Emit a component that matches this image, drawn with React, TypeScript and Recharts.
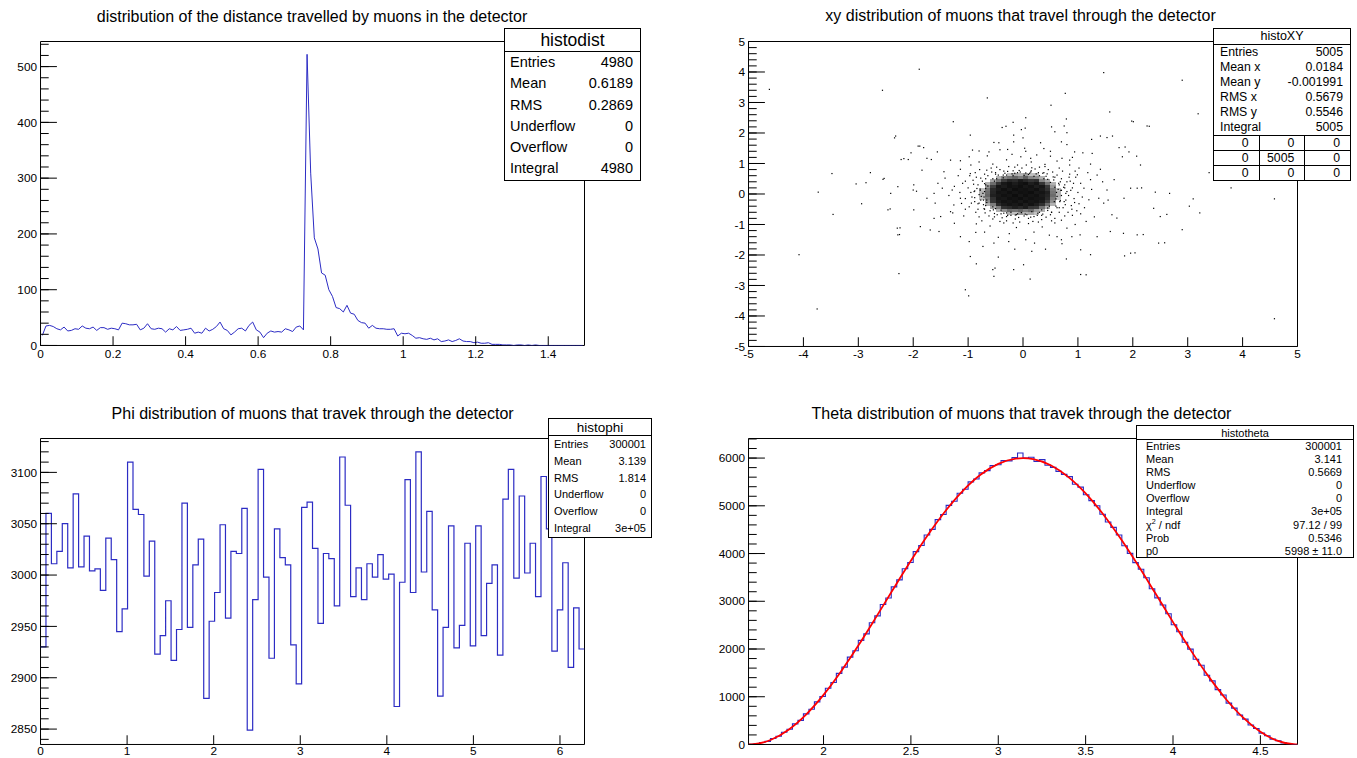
import React from "react";
import { ComposedChart, Line, Scatter, XAxis, YAxis, ReferenceArea } from "recharts";

const FONT = '"Liberation Sans", Arial, Helvetica, sans-serif';
const HIST_BLUE = "#2c2cc4";
const FIT_RED = "#ff0000";
const LABEL_SIZE = 11.8;

// ---------- histodist : 150 bins on [0, 1.5] ----------
const distCounts = [
  18, 35, 36, 34, 30, 28, 33, 26, 27, 30, 29, 35, 31, 30, 33, 27, 32, 32, 29, 31,
  30, 28, 40, 39, 37, 37, 38, 28, 31, 39, 30, 29, 31, 30, 24, 30, 28, 34, 27, 28,
  29, 31, 22, 24, 22, 31, 26, 29, 34, 42, 30, 27, 19, 24, 30, 31, 26, 36, 42, 28,
  24, 14, 22, 26, 24, 25, 24, 30, 28, 25, 33, 35, 28, 522, 309, 193, 173, 130, 126, 100,
  88, 68, 66, 60, 72, 58, 56, 45, 41, 40, 31, 36, 31, 30, 30, 29, 29, 30, 17, 22,
  21, 22, 18, 13, 14, 12, 11, 13, 10, 12, 7, 8, 10, 7, 9, 12, 8, 7, 7, 5,
  6, 4, 4, 5, 2, 2, 2, 1, 1, 1, 0, 1, 1, 0, 1, 0, 1, 0, 0, 0,
  0, 0, 0, 0, 0, 0, 0, 0, 0, 0,
];
const distXTicks = [0, 0.2, 0.4, 0.6, 0.8, 1, 1.2, 1.4];
const distYTicks = [0, 100, 200, 300, 400, 500];
const distStats = [
  ["Entries", "4980"],
  ["Mean", "0.6189"],
  ["RMS", "0.2869"],
  ["Underflow", "0"],
  ["Overflow", "0"],
  ["Integral", "4980"],
];

// ---------- histoXY ----------
// dense core, 0.1 x 0.1 cells, x from -1.0 (20 columns), rows from y = 0.9 downwards (18 rows)
const xyCoreRows = [
  [0, 0, 0, 0, 0, 0, 0, 0, 0, 0, 0, 0, 0, 0, 0, 0, 0, 0, 0, 0],
  [0, 0, 0, 0, 0, 0, 0, 0, 0, 0, 0, 0, 0, 0, 0, 0, 0, 0, 0, 0],
  [0, 0, 0, 0, 0, 0, 0, 4, 6, 5, 7, 4, 4, 0, 0, 0, 0, 0, 0, 0],
  [0, 0, 0, 0, 0, 5, 9, 11, 13, 10, 14, 9, 8, 5, 0, 0, 0, 0, 0, 0],
  [0, 0, 0, 0, 6, 11, 20, 27, 25, 32, 26, 22, 24, 9, 6, 0, 0, 0, 0, 0],
  [0, 0, 0, 5, 12, 22, 33, 38, 31, 36, 40, 30, 35, 22, 11, 5, 0, 0, 0, 0],
  [0, 0, 0, 8, 20, 35, 31, 38, 35, 40, 33, 37, 30, 34, 21, 7, 0, 0, 0, 0],
  [0, 0, 4, 11, 26, 32, 39, 33, 41, 36, 38, 34, 39, 31, 23, 10, 4, 0, 0, 0],
  [0, 0, 5, 12, 27, 36, 34, 40, 35, 39, 37, 41, 33, 35, 29, 11, 5, 0, 0, 0],
  [0, 0, 5, 13, 29, 33, 38, 35, 42, 34, 40, 35, 38, 32, 27, 12, 5, 0, 0, 0],
  [0, 0, 4, 10, 23, 35, 33, 39, 36, 41, 34, 38, 35, 34, 25, 10, 4, 0, 0, 0],
  [0, 0, 0, 8, 22, 31, 37, 34, 38, 33, 39, 34, 36, 31, 20, 8, 0, 0, 0, 0],
  [0, 0, 0, 5, 10, 25, 32, 36, 33, 38, 31, 36, 30, 23, 12, 5, 0, 0, 0, 0],
  [0, 0, 0, 0, 6, 10, 23, 25, 30, 26, 31, 22, 21, 11, 5, 0, 0, 0, 0, 0],
  [0, 0, 0, 0, 0, 5, 8, 12, 11, 13, 10, 12, 7, 5, 0, 0, 0, 0, 0, 0],
  [0, 0, 0, 0, 0, 0, 0, 5, 4, 7, 5, 6, 4, 0, 0, 0, 0, 0, 0, 0],
  [0, 0, 0, 0, 0, 0, 0, 0, 0, 0, 0, 0, 0, 0, 0, 0, 0, 0, 0, 0],
  [0, 0, 0, 0, 0, 0, 0, 0, 0, 0, 0, 0, 0, 0, 0, 0, 0, 0, 0, 0],
];
// speckled fringe just outside the core
const xyRing = [
  [-0.95, 0.05], [-0.9, 0.32], [-0.88, -0.25], [-0.85, 0.55], [-0.82, -0.5], [-0.78, 0.12], [-0.76, -0.08], [-0.74, 0.42],
  [-0.72, -0.35], [-0.7, 0.65], [-0.69, -0.62], [-0.98, -0.42], [-1.0, 0.2], [-0.93, -0.1], [-0.87, 0.7], [-0.8, -0.75],
  [-0.66, 0.78], [-0.62, -0.72], [-0.58, 0.85], [-0.55, -0.82], [-0.5, 0.7], [-0.47, -0.68], [-0.42, 0.8], [-0.38, -0.78],
  [-0.33, 0.68], [-0.3, -0.88], [-0.26, 0.9], [-0.22, -0.7], [-0.18, 0.76], [-0.14, -0.82], [-0.1, 0.7], [-0.06, -0.92],
  [-0.02, 0.85], [0.02, -0.72], [0.06, 0.95], [0.1, -0.8], [0.14, 0.72], [0.18, -0.9], [0.22, 0.82], [0.26, -0.7],
  [0.3, 0.88], [0.34, -0.84], [0.38, 0.7], [0.42, -0.76], [0.46, 0.8], [0.5, -0.68], [0.54, 0.72], [0.58, -0.8],
  [0.62, 0.62], [0.66, -0.6], [0.7, 0.5], [0.73, -0.45], [0.76, 0.3], [0.78, -0.2], [0.8, 0.08], [0.83, -0.05],
  [0.86, 0.42], [0.88, -0.38], [0.9, 0.2], [0.93, -0.15], [0.96, 0.55], [0.98, -0.55], [0.72, 0.75], [0.76, -0.72],
  [0.85, 0.65], [0.9, -0.7], [-1.05, -0.15], [-1.1, 0.35], [-0.97, 0.6], [1.0, 0.05], [1.02, -0.32], [0.95, 0.75],
  [-0.84, 0.18], [-0.8, -0.3], [-0.77, 0.52], [-0.73, 0.02], [-0.71, -0.48], [-0.68, 0.3], [-0.66, -0.2], [-0.64, 0.6],
  [-0.6, -0.55], [-0.57, 0.72], [-0.52, -0.75], [-0.45, 0.62], [-0.4, -0.65], [-0.35, 0.75], [-0.28, -0.7], [-0.2, 0.66],
  [-0.12, -0.68], [-0.05, 0.72], [0.04, -0.66], [0.12, 0.68], [0.2, -0.74], [0.28, 0.7], [0.36, -0.66], [0.44, 0.66],
  [0.52, -0.6], [0.58, 0.55], [0.62, -0.45], [0.65, 0.35], [0.67, -0.25], [0.69, 0.12], [0.7, -0.05], [0.74, 0.22],
  [0.77, -0.35], [0.8, 0.4], [0.82, -0.6], [0.84, 0.55], [-0.91, 0.45], [-0.86, -0.6], [-0.94, -0.3], [-0.89, 0.08],
  [0.87, 0.12], [0.92, 0.35], [0.89, -0.5], [0.94, -0.28], [-0.48, 0.88], [-0.15, 0.88], [0.16, 0.86], [0.4, 0.9],
  [-0.42, -0.9], [-0.18, -0.95], [0.28, -0.92], [0.52, -0.88], [-0.75, -0.88], [0.66, 0.85], [-0.79, 0.8], [0.7, -0.86],
  [0.61, 0.05], [0.58, 0.22], [0.5, 0.38], [0.38, 0.5], [0.2, 0.58], [0.02, 0.61], [-0.18, 0.6], [-0.36, 0.53],
  [-0.52, 0.42], [-0.64, 0.26], [-0.7, 0.08], [-0.71, -0.1], [-0.66, -0.28], [-0.55, -0.42], [-0.4, -0.53], [-0.22, -0.6],
  [-0.03, -0.61], [0.16, -0.58], [0.34, -0.52], [0.48, -0.4], [0.57, -0.25], [0.62, -0.08], [0.7, 0.12], [0.66, 0.3],
  [0.56, 0.46], [0.42, 0.58], [0.24, 0.66], [0.05, 0.69], [-0.15, 0.68], [-0.36, 0.62], [-0.55, 0.5], [-0.7, 0.34],
  [-0.78, 0.16], [-0.8, -0.02], [-0.77, -0.2], [-0.68, -0.38], [-0.54, -0.52], [-0.35, -0.63], [-0.14, -0.69], [0.07, -0.68],
  [0.27, -0.63], [0.45, -0.54], [0.6, -0.4], [0.68, -0.22], [0.78, 0.02], [0.76, 0.2], [0.68, 0.4], [0.55, 0.56],
  [0.36, 0.68], [0.15, 0.76], [-0.07, 0.77], [-0.28, 0.74], [-0.5, 0.65], [-0.68, 0.5], [-0.82, 0.3], [-0.88, 0.1],
  [-0.88, -0.12], [-0.82, -0.32], [-0.7, -0.5], [-0.52, -0.64], [-0.3, -0.74], [-0.08, -0.77], [0.14, -0.76], [0.34, -0.7],
  [0.52, -0.6], [0.66, -0.45], [0.75, -0.25], [0.64, 0.15], [0.6, -0.16], [-0.68, 0.18], [-0.72, -0.2], [0.3, 0.6],
  [-0.3, 0.62], [0.3, -0.6], [-0.3, -0.62], [0.1, 0.64], [-0.1, -0.65], [0.45, 0.48], [-0.48, 0.5], [0.45, -0.46],
  [-0.5, -0.48],
];
const xyHalo = [
  [1.58, 2.69], [0.05, 2.5], [-0.18, 2.35], [-0.38, 2.18], [0.79, 2.46], [2.01, 2.37], [2.3, 2.22], [0.52, 2.2],
  [-0.03, 2.11], [0.58, 2.04], [0.8, 2.01], [-0.96, 1.93], [-0.17, 1.93], [0, 1.84], [-2.34, 1.84], [1.25, 1.79],
  [1.53, 1.85], [-0.53, 1.69], [-0.44, 1.68], [-0.17, 1.71], [0.32, 1.68], [0.7, 1.71], [0.8, 1.62], [-1.91, 1.57],
  [-1.81, 1.52], [1.75, 1.52], [0.38, 1.49], [0.03, 1.5], [-0.28, 1.46], [-0.92, 1.44], [-0.8, 1.41], [-0.62, 1.38],
  [-1.56, 1.38], [0.94, 1.38], [1.09, 1.35], [1.26, 1.33], [1.93, 1.38], [-2.04, 1.35], [-2.22, 1.13], [-2.09, 1.13],
  [-1.75, 1.17], [-1.67, 1.13], [-1.32, 1.11], [-1.14, 1.09], [-0.98, 1.22], [-0.04, 1.22], [0.14, 1.17], [0.5, 1.24],
  [0.71, 1.17], [0.85, 1.11], [1.23, 0.98], [1.41, 0.81], [1.81, 1.22], [2.14, 0.95], [-1.84, 0.78], [-1.44, 0.73],
  [-1.14, 0.81], [-0.96, 0.67], [-2.55, 0.48], [-2.28, 0.24], [-1.99, 0.3], [-2.0, 0.13], [-2.41, 0.02], [-1.62, 0.02],
  [-1.47, 0.19], [-1.29, 0.13], [-1.14, -0.14], [-1.26, -0.36], [-1.32, -0.58], [-1.75, -0.14], [-1.99, -0.52], [-2.46, -0.52],
  [-1.62, -0.8], [-1.5, -0.74], [-1.25, -0.96], [-1.87, -1.07], [-2.29, -1.12], [-2.28, -1.34], [-1.69, -1.18], [-1.53, -1.23],
  [-1.14, -1.4], [-0.98, -1.56], [-0.86, -1.26], [-0.73, -1.72], [-0.53, -1.61], [-0.26, -1.56], [-0.15, -1.81], [0.21, -1.61],
  [0.41, -1.81], [0.62, -1.4], [0.71, -1.63], [0.89, -1.4], [1.05, -1.83], [1.23, -1.99], [1.04, -1.34], [1.35, -1.4],
  [1.59, -1.23], [1.83, -1.29], [2.08, -1.34], [2.47, -1.61], [1.96, -1.94], [1.62, -0.68], [1.71, -0.79], [1.96, 0.19],
  [2.08, 0.19], [2.38, -0.47], [2.5, -0.74], [2.67, 0.02], [1.84, -0.14], [1.53, 0.13], [1.66, 0.47], [1.47, -0.3],
  [1.38, -0.14], [1.2, -0.19], [1.11, 0.19], [1.23, 0.47], [0.99, 0.63], [-0.96, -2.05], [-0.85, -2.29], [-0.55, -2.48],
  [-0.45, -2.07], [-0.17, -2.48], [0.01, -2.32], [0.16, -1.88], [0.13, -2.79], [-0.53, -2.7], [1.05, -2.64], [0.79, -2.13],
  [1.85, -2.03], [-1.05, 0.42], [-1.12, -0.31], [-1.18, 0.6], [-1.08, -0.72], [-1.25, 0.25], [-1.35, -0.05], [-1.42, 0.52],
  [-1.15, 0.05], [-1.05, -0.5], [-1.28, -0.62], [-1.55, 0.35], [-1.6, -0.3], [1.05, 0.35], [1.12, -0.45], [1.18, 0.7],
  [1.08, -0.1], [1.25, 0.15], [1.3, -0.75], [1.02, 0.85], [1.45, 0.4], [1.55, -0.2], [1.15, -0.9], [1.35, 0.62],
  [1.05, -0.65], [-0.8, 1.05], [-0.55, 0.98], [-0.3, 1.12], [-0.1, 0.95], [0.15, 1.05], [0.4, 0.97], [0.62, 1.08],
  [0.85, 0.95], [-0.65, 1.25], [-0.2, 1.3], [0.25, 1.28], [0.5, 1.4], [0.9, 1.2], [-0.95, 0.95], [0.05, 1.4],
  [-0.42, 1.45], [-0.85, -0.98], [-0.6, -1.05], [-0.35, -0.95], [-0.12, -1.1], [0.1, -0.97], [0.35, -1.08], [0.58, -0.95],
  [0.8, -1.12], [-0.7, -1.25], [-0.25, -1.3], [0.2, -1.25], [0.48, -1.35], [0.95, -1.0], [-0.45, -1.42], [0.05, -1.5],
  [0.7, -1.5],
];
const xyOutliers = [
  [-1.89, 4.09], [1.47, 3.98], [2.9, 3.73], [-4.62, 3.43], [-2.56, 3.4], [0.77, 3.3], [-0.65, 3.15], [0.51, 2.91],
  [-1.27, 2.37], [1.98, 2.39], [3.19, 2.63], [-0.31, 2.22], [0.04, 2.16], [0.75, 2.23], [2.26, 2.23], [-2.32, 1.9],
  [1.41, 1.9], [1.63, 1.9], [-1.88, 1.57], [1.86, 1.54], [-2.17, 1.16], [2.07, 1.24], [-3.48, 0.67], [-2.78, 0.7],
  [-2.53, 0.51], [3.39, 0.7], [3.49, 1.02], [-3.04, 0.33], [-2.86, 0.37], [-3.73, 0.06], [-1.94, 0.09], [2.16, 0.2],
  [2.41, 0.06], [3.79, 0.2], [3.1, -0.16], [-2.94, -0.32], [-2.42, -0.49], [3.03, -0.4], [-3.46, -0.67], [3.22, -0.62],
  [2.62, -0.67], [-2.24, -1.11], [2.9, -1.17], [2.19, -1.33], [-2.25, -1.33], [2.58, -1.6], [-4.08, -1.99], [2.04, -1.93],
  [-2.26, -2.61], [1.15, -2.65], [-0.51, -2.43], [-1.05, -3.14], [-0.99, -3.34], [-3.75, -3.77], [4.58, -4.09], [4.58, -0.16],
];
const xyTicks = [-5, -4, -3, -2, -1, 0, 1, 2, 3, 4, 5];
const xyStats = [
  ["Entries", "5005"],
  ["Mean x", "0.0184"],
  ["Mean y", "-0.001991"],
  ["RMS x", "0.5679"],
  ["RMS y", "0.5546"],
  ["Integral", "5005"],
];
const xyTable = [
  ["0", "0", "0"],
  ["0", "5005", "0"],
  ["0", "0", "0"],
];

// ---------- histophi : 100 bins on [0, 2pi] ----------
const phiCounts = [
  2930, 3060, 3011, 3023, 3050, 3007, 3079, 3008, 3038, 3004, 3006, 2985, 3036, 3015, 2945, 2967, 3110, 3064, 3059, 2999,
  3033, 2923, 2941, 2975, 2917, 2947, 3070, 2949, 3010, 3035, 2880, 2955, 2983, 3049, 2958, 3023, 3021, 3065, 2849, 2976,
  3103, 2998, 2919, 3045, 3017, 3010, 2932, 2894, 3066, 3071, 3026, 2953, 3021, 3016, 2970, 3115, 3068, 2979, 3007, 2976,
  3011, 2998, 3020, 2996, 3001, 2872, 2993, 3093, 2983, 3120, 3003, 3062, 2966, 2882, 2949, 3048, 2929, 2951, 3031, 2931,
  3048, 2941, 2992, 3010, 2922, 3074, 3103, 2997, 3077, 3002, 3031, 2979, 3096, 3045, 2926, 2966, 3012, 2910, 2968, 2928,
];
const phiXTicks = [0, 1, 2, 3, 4, 5, 6];
const phiYTicks = [2850, 2900, 2950, 3000, 3050, 3100];
const phiStats = [
  ["Entries", "300001"],
  ["Mean", "3.139"],
  ["RMS", "1.814"],
  ["Underflow", "0"],
  ["Overflow", "0"],
  ["Integral", "3e+05"],
];

// ---------- histotheta : 100 bins on [pi/2, 3pi/2] ----------
const thetaCounts = [
  2, 15, 41, 66, 126, 172, 255, 318, 431, 506, 641, 738, 893, 1004, 1178, 1297, 1489, 1621, 1829, 1962,
  2181, 2318, 2551, 2695, 2931, 3068, 3302, 3449, 3681, 3812, 4041, 4168, 4389, 4507, 4711, 4818, 5008, 5096, 5263, 5346,
  5502, 5561, 5690, 5736, 5843, 5861, 5948, 5942, 6012, 6105, 6003, 6018, 5928, 5967, 5851, 5806, 5722, 5658, 5612, 5451,
  5392, 5231, 5108, 5002, 4824, 4662, 4549, 4388, 4162, 4003, 3810, 3671, 3492, 3262, 3071, 2921, 2738, 2507, 2362, 2141,
  1998, 1786, 1659, 1450, 1332, 1149, 1036, 866, 761, 618, 531, 409, 336, 238, 183, 113, 77, 33, 15, 1,
];
// red fit curve read along x
const fitX = [1.5708, 1.6, 1.7, 1.8, 1.9, 2.0, 2.1, 2.2, 2.3, 2.4, 2.5, 2.6, 2.7, 2.8, 2.9, 3.0, 3.1, 3.1416,
  3.2, 3.3, 3.4, 3.5, 3.6, 3.7, 3.8, 3.9, 4.0, 4.1, 4.2, 4.3, 4.4, 4.5, 4.6, 4.7, 4.7124];
const fitY = [0, 5, 100, 310, 627, 1039, 1529, 2077, 2663, 3262, 3849, 4404, 4903, 5325, 5655, 5879, 5988, 5998,
  5978, 5849, 5606, 5260, 4824, 4314, 3753, 3161, 2563, 1982, 1442, 964, 567, 267, 75, 1, 0];
const thetaXTicks = [2, 2.5, 3, 3.5, 4, 4.5];
const thetaYTicks = [0, 1000, 2000, 3000, 4000, 5000, 6000];
const thetaStats = [
  ["Entries", "300001"],
  ["Mean", "3.141"],
  ["RMS", "0.5669"],
  ["Underflow", "0"],
  ["Overflow", "0"],
  ["Integral", "3e+05"],
  ["chi2 / ndf", "97.12 / 99"],
  ["Prob", "0.5346"],
  ["p0", "5998 \u00b1 11.0"],
];

// ---------- helpers ----------
const steps = (a: number, b: number, s: number) => {
  const out: number[] = [];
  for (let i = 0; a + i * s <= b + s * 1e-6; i++) out.push(Math.round((a + i * s) * 1e6) / 1e6);
  return out;
};

const PI = Math.PI;
const distData = distCounts.map((c, i) => ({ x: (i + 0.5) * 0.01, y: c }));
const phiW = (2 * PI) / phiCounts.length;
const phiData = [...phiCounts.map((c, i) => ({ x: i * phiW, y: c })), { x: 2 * PI, y: phiCounts[phiCounts.length - 1] }];
const thW = PI / thetaCounts.length;
const thetaData = [
  ...thetaCounts.map((c, i) => ({ x: PI / 2 + i * thW, y: c })),
  { x: 1.5 * PI, y: thetaCounts[thetaCounts.length - 1] },
];
const fitData = fitX.map((x, i) => ({ x, y: fitY[i] }));
const xyPoints = [...xyRing, ...xyHalo, ...xyOutliers].map(([x, y]) => ({ x, y }));
const xyCells = xyCoreRows
  .flatMap((row, r) => row.map((n, c) => ({ x1: -1.0 + c * 0.1, x2: -0.9 + c * 0.1, y1: 0.8 - r * 0.1, y2: 0.9 - r * 0.1, n })))
  .filter((c) => c.n > 0);

type Spec = {
  xDom: [number, number];
  yDom: [number, number];
  xMajor: number[];
  xMinor: number[];
  yMajor: number[];
  yMinor: number[];
  xGap: number;
};

const X_LEN = 9.2;
const Y_LEN = 16.4;
const Y_GAP = 3.5;

// tick renderers: ROOT ticks point into the frame, labels sit outside
const xMajorTick = (gap: number) => (p: any) => (
  <g>
    <line x1={p.x} x2={p.x} y1={p.y - gap} y2={p.y - gap - X_LEN} stroke="#000" />
    <text x={p.x} y={p.y} dy="0.71em" textAnchor="middle" fontSize={LABEL_SIZE} fontFamily={FONT} fill="#000">
      {p.payload.value}
    </text>
  </g>
);
const xMinorTick = (p: any) => <line x1={p.x} x2={p.x} y1={p.y} y2={p.y - X_LEN / 2} stroke="#000" />;
const yMajorTick = (p: any) => (
  <g>
    <line x1={p.x + Y_GAP} x2={p.x + Y_GAP + Y_LEN} y1={p.y} y2={p.y} stroke="#000" />
    <text x={p.x} y={p.y} dy="0.355em" textAnchor="end" fontSize={LABEL_SIZE} fontFamily={FONT} fill="#000">
      {p.payload.value}
    </text>
  </g>
);
const yMinorTick = (p: any) => <line x1={p.x} x2={p.x + Y_LEN / 2} y1={p.y} y2={p.y} stroke="#000" />;

function frameAxes(s: Spec) {
  return [
    <XAxis key="xm" xAxisId="m" type="number" dataKey="x" domain={s.xDom} allowDataOverflow ticks={s.xMajor}
      interval={0} height={0.01} axisLine={false} tickLine={false} tickSize={0} tickMargin={s.xGap}
      tick={xMajorTick(s.xGap)} />,
    <XAxis key="xn" xAxisId="n" type="number" domain={s.xDom} allowDataOverflow ticks={s.xMinor}
      interval={0} height={0.01} axisLine={false} tickLine={false} tickSize={0} tickMargin={0} tick={xMinorTick} />,
    <YAxis key="ym" yAxisId="m" type="number" dataKey="y" domain={s.yDom} allowDataOverflow ticks={s.yMajor}
      interval={0} width={0.01} axisLine={false} tickLine={false} tickSize={0} tickMargin={Y_GAP} tick={yMajorTick} />,
    <YAxis key="yn" yAxisId="n" type="number" domain={s.yDom} allowDataOverflow ticks={s.yMinor}
      interval={0} width={0.01} axisLine={false} tickLine={false} tickSize={0} tickMargin={0} tick={yMinorTick} />,
    <ReferenceArea key="frame" xAxisId="m" yAxisId="m" x1={s.xDom[0]} x2={s.xDom[1]} y1={s.yDom[0]} y2={s.yDom[1]}
      fill="none" fillOpacity={0} stroke="#000" strokeWidth={1} ifOverflow="visible" />,
  ];
}

function StatLabel({ k }: { k: string }) {
  if (k.startsWith("chi2")) {
    return (
      <span>
        {"\u03c7"}
        <sup style={{ fontSize: "0.65em", lineHeight: 0 }}>2</sup>
        {k.slice(4)}
      </span>
    );
  }
  return <span>{k}</span>;
}

type BoxProps = {
  x: number; y: number; w: number; h: number;
  title: string; titleSize: number; headH: number;
  rows: string[][]; rowH: number; fontSize: number; padL: number; padR: number;
  table?: string[][]; tableRowH?: number;
};

function StatsBox(p: BoxProps) {
  return (
    <div style={{ position: "absolute", left: p.x, top: p.y, width: p.w, height: p.h, boxSizing: "border-box",
      border: "1px solid #000", background: "#fff", fontFamily: FONT, color: "#000", overflow: "hidden" }}>
      <div style={{ height: p.headH, lineHeight: `${p.headH}px`, fontSize: p.titleSize, textAlign: "center",
        borderBottom: "1px solid #000", boxSizing: "border-box" }}>{p.title}</div>
      {p.rows.map(([k, v]) => (
        <div key={k} style={{ display: "flex", justifyContent: "space-between", height: p.rowH,
          lineHeight: `${p.rowH}px`, fontSize: p.fontSize, paddingLeft: p.padL, paddingRight: p.padR, whiteSpace: "nowrap" }}>
          <StatLabel k={k} />
          <span>{v}</span>
        </div>
      ))}
      {p.table && p.table.map((row, i) => (
        <div key={i} style={{ display: "flex", height: p.tableRowH, borderTop: "1px solid #000", boxSizing: "border-box" }}>
          {row.map((v, j) => (
            <div key={j} style={{ flex: 1, textAlign: "right", paddingRight: 10, fontSize: p.fontSize,
              lineHeight: `${(p.tableRowH || 15) - 1}px`, borderLeft: j ? "1px solid #000" : "none" }}>{v}</div>
          ))}
        </div>
      ))}
    </div>
  );
}

function Title({ cx, cy, text }: { cx: number; cy: number; text: string }) {
  return (
    <div style={{ position: "absolute", left: cx - 320, top: cy - 10, width: 640, height: 20, lineHeight: "20px",
      textAlign: "center", fontFamily: FONT, fontSize: 16, color: "#000", whiteSpace: "nowrap" }}>{text}</div>
  );
}

const distSpec: Spec = {
  xDom: [0, 1.5], yDom: [0, 545],
  xMajor: distXTicks, xMinor: steps(0, 1.5, 0.05),
  yMajor: distYTicks, yMinor: steps(0, 540, 20), xGap: 4.2,
};
const xySpec: Spec = {
  xDom: [-5, 5], yDom: [-5, 5],
  xMajor: xyTicks, xMinor: steps(-5, 5, 0.2),
  yMajor: xyTicks, yMinor: steps(-5, 5, 0.2), xGap: 3.5,
};
const phiSpec: Spec = {
  xDom: [0, 2 * PI], yDom: [2835, 3133],
  xMajor: phiXTicks, xMinor: steps(0, 6.2, 0.2),
  yMajor: phiYTicks, yMinor: steps(2840, 3130, 10), xGap: 1.8,
};
const thetaSpec: Spec = {
  xDom: [PI / 2, 1.5 * PI], yDom: [0, 6410],
  xMajor: thetaXTicks, xMinor: steps(1.6, 4.7, 0.1),
  yMajor: thetaYTicks, yMinor: steps(0, 6400, 200), xGap: 1.8,
};

const dot = (p: any) => <rect x={p.cx - 0.6} y={p.cy - 0.6} width={1.2} height={1.2} fill="#000" />;

export default function App() {
  return (
    <div style={{ position: "fixed", left: 0, top: 0, width: 1357, height: 758, background: "#fff", overflow: "hidden" }}>
      <style>{".xycell path{shape-rendering:crispEdges}"}</style>

      {/* top left */}
      <div style={{ position: "absolute", left: 0, top: 0 }}>
        <ComposedChart width={678} height={379} margin={{ top: 41.5, right: 93.5, bottom: 33.5, left: 40.5 }}>
          {frameAxes(distSpec)}
          <Line xAxisId="m" yAxisId="m" data={distData} type="linear" dataKey="y" stroke={HIST_BLUE}
            strokeWidth={1} dot={false} isAnimationActive={false} />
        </ComposedChart>
      </div>

      {/* top right */}
      <div style={{ position: "absolute", left: 678, top: 0 }}>
        <ComposedChart width={679} height={379} margin={{ top: 41.5, right: 59.5, bottom: 32.5, left: 70.5 }}>
          {frameAxes(xySpec)}
          {xyCells.map((c, i) => (
            <ReferenceArea key={`c${i}`} className="xycell" xAxisId="m" yAxisId="m" x1={c.x1} x2={c.x2} y1={c.y1} y2={c.y2}
              fill="#000" fillOpacity={1 - Math.exp(-c.n / 14)} stroke="none" />
          ))}
          <Scatter xAxisId="m" yAxisId="m" data={xyPoints} shape={dot} isAnimationActive={false} />
        </ComposedChart>
      </div>

      {/* bottom left */}
      <div style={{ position: "absolute", left: 0, top: 379 }}>
        <ComposedChart width={678} height={379} margin={{ top: 59.5, right: 93.5, bottom: 13.5, left: 40.5 }}>
          {frameAxes(phiSpec)}
          <Line xAxisId="m" yAxisId="m" data={phiData} type="stepAfter" dataKey="y" stroke={HIST_BLUE}
            strokeWidth={1.2} dot={false} isAnimationActive={false} />
        </ComposedChart>
      </div>

      {/* bottom right */}
      <div style={{ position: "absolute", left: 678, top: 379 }}>
        <ComposedChart width={679} height={379} margin={{ top: 59.5, right: 59.5, bottom: 13.5, left: 70.5 }}>
          {frameAxes(thetaSpec)}
          <Line xAxisId="m" yAxisId="m" data={thetaData} type="stepAfter" dataKey="y" stroke={HIST_BLUE}
            strokeWidth={1.1} dot={false} isAnimationActive={false} />
          <Line xAxisId="m" yAxisId="m" data={fitData} type="monotone" dataKey="y" stroke={FIT_RED}
            strokeWidth={1.8} dot={false} isAnimationActive={false} />
        </ComposedChart>
      </div>

      <Title cx={312} cy={16.7} text="distribution of the distance travelled by muons in the detector" />
      <Title cx={1020.5} cy={16} text="xy distribution of muons that travel through the detector" />
      <Title cx={312.6} cy={414} text="Phi distribution of muons that travek through the detector" />
      <Title cx={1021.5} cy={414} text="Theta distribution of muons that travek through the detector" />

      <StatsBox x={504} y={28} w={137} h={153} title="histodist" titleSize={17.5} headH={23}
        rows={distStats} rowH={21.3} fontSize={14.5} padL={5} padR={7} />
      <StatsBox x={1213} y={28} w={138} h={153} title="histoXY" titleSize={12.5} headH={15.5}
        rows={xyStats} rowH={15.1} fontSize={12.3} padL={6} padR={7} table={xyTable} tableRowH={15} />
      <StatsBox x={548} y={418} w={104} h={120} title="histophi" titleSize={13.5} headH={17}
        rows={phiStats} rowH={16.8} fontSize={11} padL={5} padR={5} />
      <StatsBox x={1136} y={425} w={218} h={133} title="histotheta" titleSize={11} headH={14}
        rows={thetaStats} rowH={13.1} fontSize={11} padL={9} padR={11} />
    </div>
  );
}
